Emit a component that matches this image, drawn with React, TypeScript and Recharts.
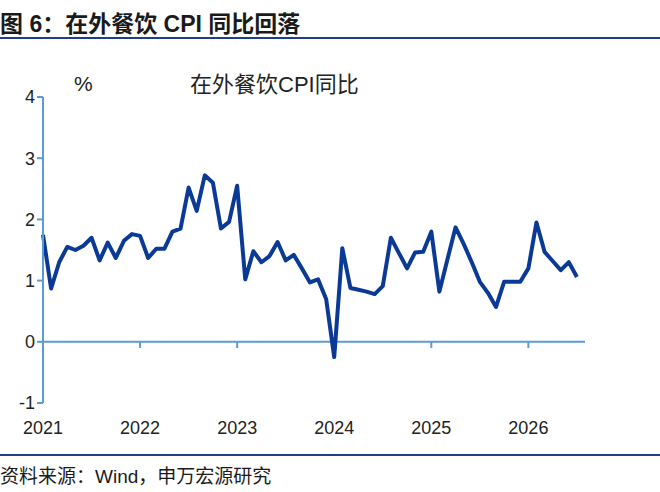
import { LineChart, Line, XAxis, YAxis, ReferenceLine } from "recharts";

const values = [
  1.75, 0.87, 1.3, 1.55, 1.5, 1.57, 1.7, 1.33, 1.62, 1.37, 1.65, 1.76,
  1.73, 1.37, 1.52, 1.52, 1.8, 1.85, 2.52, 2.14, 2.72, 2.6, 1.85, 1.96,
  2.55, 1.02, 1.48, 1.3, 1.4, 1.63, 1.33, 1.42, 1.2, 0.97, 1.02, 0.7,
  -0.25, 1.53, 0.88, 0.85, 0.82, 0.78, 0.91, 1.7, 1.45, 1.2, 1.46, 1.47,
  1.8, 0.82, 1.35, 1.87, 1.6, 1.3, 0.98, 0.8, 0.57, 0.98, 0.98, 0.98,
  1.2, 1.95, 1.47, 1.32, 1.17, 1.3, 1.06,
];
const years = ["2021", "2022", "2023", "2024", "2025", "2026"];
const yTicks = [-1, 0, 1, 2, 3, 4];

const data = values.map((v, i) => ({ i, v }));
const yearTicks = years.map((_, k) => k * 12);

const axisColor = "#5b9bd5";
const lineColor = "#0b3a96";
const font = "Arial, 'Liberation Sans', 'Noto Sans CJK SC', sans-serif";

export default function App() {
  return (
    <div style={{ position: "absolute", left: 0, top: 0, width: 660, height: 492, fontFamily: font, background: "#fff" }}>
      <div style={{ position: "absolute", left: 0, top: 5, fontSize: 23, fontWeight: "bold", color: "#1a1a1a" }}>
        图 6：在外餐饮 CPI 同比回落
      </div>
      <div style={{ position: "absolute", left: 0, top: 37, width: 660, height: 2, background: "#1f3d8a" }} />
      <div style={{ position: "absolute", left: 0, top: 454, width: 660, height: 2, background: "#1f3d8a" }} />
      <div style={{ position: "absolute", left: 0, top: 461, fontSize: 19, color: "#1a1a1a" }}>
        资料来源：Wind，申万宏源研究
      </div>
      <div style={{ position: "absolute", left: 190, top: 66, fontSize: 22, color: "#222" }}>在外餐饮CPI同比</div>
      <div style={{ position: "absolute", left: 74, top: 72, fontSize: 21, color: "#222" }}>%</div>
      <LineChart width={660} height={492} data={data} margin={{ top: 97, right: 75, left: 0, bottom: 49 }}>
        <XAxis
          dataKey="i"
          type="number"
          domain={[0, 67]}
          ticks={yearTicks}
          tickFormatter={(t) => years[t / 12]}
          axisLine={false}
          tickLine={false}
          tick={{ fontSize: 18, fill: "#222" }}
          dy={10}
          height={40}
        />
        <YAxis
          domain={[-1, 4]}
          ticks={yTicks}
          stroke={axisColor}
          strokeWidth={2}
          tickSize={6}
          tick={{ fontSize: 18, fill: "#222" }}
          width={43}
        />
        <ReferenceLine y={0} stroke={axisColor} strokeWidth={2} />
        {yearTicks.slice(1).map((t) => (
          <ReferenceLine key={t} segment={[{ x: t, y: 0 }, { x: t, y: -0.1 }]} stroke={axisColor} strokeWidth={2} />
        ))}
        <Line dataKey="v" stroke={lineColor} strokeWidth={4} dot={false} isAnimationActive={false} strokeLinejoin="round" />
      </LineChart>
    </div>
  );
}
